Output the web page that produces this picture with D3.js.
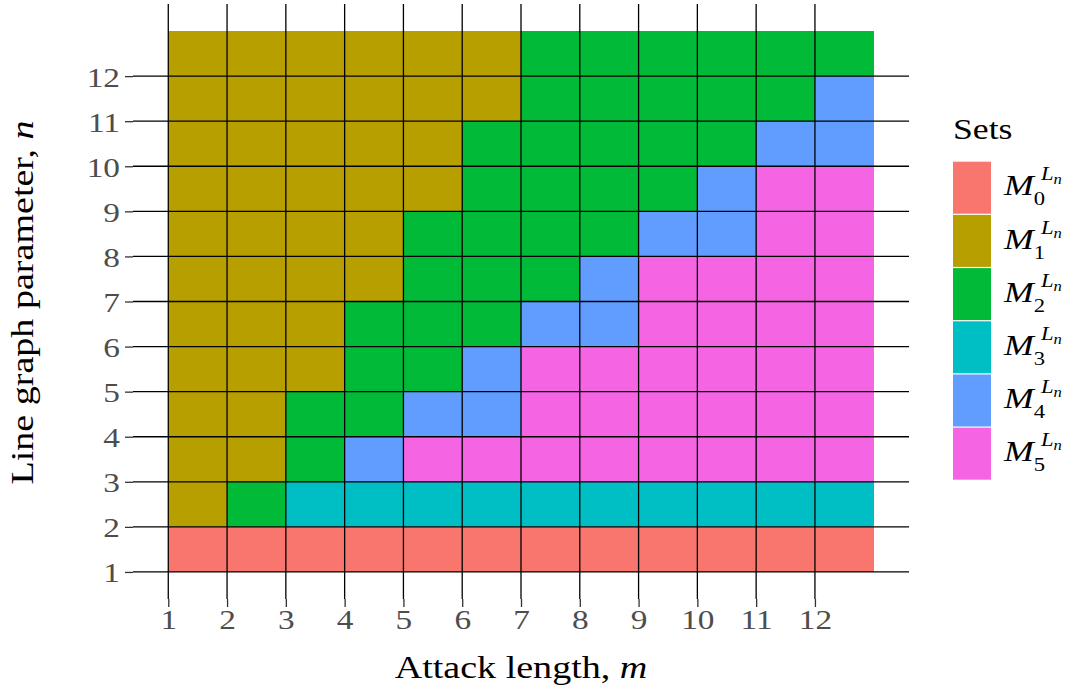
<!DOCTYPE html>
<html>
<head>
<meta charset="utf-8">
<script src="https://cdn.jsdelivr.net/npm/d3@7"></script>
<style>
  html, body { margin: 0; padding: 0; background: #fff; }
  svg { display: block; }
  text { font-family: "Liberation Serif", "Times New Roman", serif; }
</style>
</head>
<body>
<svg id="chart" width="1069" height="698"></svg>
<script>
// Attack length m (columns) and line graph parameter n (rows)
const attackLengths = [1, 2, 3, 4, 5, 6, 7, 8, 9, 10, 11, 12];
const lineParams = [1, 2, 3, 4, 5, 6, 7, 8, 9, 10, 11, 12];
const xTickLabels = ["1", "2", "3", "4", "5", "6", "7", "8", "9", "10", "11", "12"];
const yTickLabels = ["1", "2", "3", "4", "5", "6", "7", "8", "9", "10", "11", "12"];

// Set index (M_k) for each m, one array per n
const setsN1  = [0, 0, 0, 0, 0, 0, 0, 0, 0, 0, 0, 0];
const setsN2  = [1, 2, 3, 3, 3, 3, 3, 3, 3, 3, 3, 3];
const setsN3  = [1, 1, 2, 4, 5, 5, 5, 5, 5, 5, 5, 5];
const setsN4  = [1, 1, 2, 2, 4, 4, 5, 5, 5, 5, 5, 5];
const setsN5  = [1, 1, 1, 2, 2, 4, 5, 5, 5, 5, 5, 5];
const setsN6  = [1, 1, 1, 2, 2, 2, 4, 4, 5, 5, 5, 5];
const setsN7  = [1, 1, 1, 1, 2, 2, 2, 4, 5, 5, 5, 5];
const setsN8  = [1, 1, 1, 1, 2, 2, 2, 2, 4, 4, 5, 5];
const setsN9  = [1, 1, 1, 1, 1, 2, 2, 2, 2, 4, 5, 5];
const setsN10 = [1, 1, 1, 1, 1, 2, 2, 2, 2, 2, 4, 4];
const setsN11 = [1, 1, 1, 1, 1, 1, 2, 2, 2, 2, 2, 4];
const setsN12 = [1, 1, 1, 1, 1, 1, 2, 2, 2, 2, 2, 2];
const setRows = [setsN1, setsN2, setsN3, setsN4, setsN5, setsN6,
                 setsN7, setsN8, setsN9, setsN10, setsN11, setsN12];

const setIds = ["0", "1", "2", "3", "4", "5"];
const setColors = ["#F8766D", "#B79F00", "#00BA38", "#00BFC4", "#619CFF", "#F564E3"];

// Tidy cell list built from the arrays above
const cells = [];
lineParams.forEach((n, i) => {
  attackLengths.forEach((m, j) => cells.push({ m, n, set: setRows[i][j] }));
});

const svg = d3.select("#chart");
const STRETCH = 1.19;   // widen the serif glyphs a little

const panel = { left: 133, right: 909, top: 4, bottom: 599 };
const x = d3.scaleLinear().domain([0.4, 13.6]).range([panel.left, panel.right]);
const y = d3.scaleLinear().domain([0.4, 13.6]).range([panel.bottom, panel.top]);
const color = d3.scaleOrdinal().domain(setIds).range(setColors);

// Tiles
svg.append("g").selectAll("rect").data(cells).join("rect")
  .attr("x", d => x(d.m))
  .attr("y", d => y(d.n + 1))
  .attr("width", d => x(d.m + 1) - x(d.m))
  .attr("height", d => y(d.n) - y(d.n + 1))
  .attr("fill", d => color(String(d.set)))
  .attr("shape-rendering", "crispEdges");

// Grid lines drawn over the tiles
const grid = svg.append("g").attr("stroke", "#000").attr("stroke-width", 1.3);
grid.selectAll("line.v").data(attackLengths).join("line").attr("class", "v")
  .attr("x1", d => x(d)).attr("x2", d => x(d))
  .attr("y1", panel.top).attr("y2", panel.bottom);
grid.selectAll("line.h").data(lineParams).join("line").attr("class", "h")
  .attr("y1", d => y(d)).attr("y2", d => y(d))
  .attr("x1", panel.left).attr("x2", panel.right);

// Stretched text helper
function stretchedText(parent, tx, ty, rotate) {
  return parent.append("text")
    .attr("transform", `translate(${tx},${ty})${rotate ? ` rotate(${rotate})` : ""} scale(${STRETCH},1)`);
}

// Axes
const xAxis = d3.axisBottom(x).tickValues(attackLengths)
  .tickFormat((d, i) => xTickLabels[i]).tickSize(8).tickPadding(0);
const yAxis = d3.axisLeft(y).tickValues(lineParams)
  .tickFormat((d, i) => yTickLabels[i]).tickSize(8).tickPadding(0);

const gx = svg.append("g").attr("transform", `translate(0,${panel.bottom})`).call(xAxis);
const gy = svg.append("g").attr("transform", `translate(${panel.left},0)`).call(yAxis);
[gx, gy].forEach(g => {
  g.select(".domain").remove();
  g.selectAll(".tick line").attr("stroke", "#333333").attr("stroke-width", 1.3);
  g.selectAll(".tick text").attr("fill", "#4D4D4D")
    .style("font-family", "'Liberation Serif', serif").attr("font-size", 28);
});
gx.selectAll(".tick text").attr("y", null).attr("dy", null)
  .attr("transform", `translate(0,30) scale(${STRETCH},1)`)
  .attr("text-anchor", "middle");
gy.selectAll(".tick text").attr("x", null).attr("dy", null)
  .attr("transform", `translate(-13,10) scale(${STRETCH},1)`)
  .attr("text-anchor", "end");

// Axis titles
const xt = stretchedText(svg, (panel.left + panel.right) / 2, 678)
  .attr("text-anchor", "middle").attr("font-size", 32).attr("fill", "#000");
xt.append("tspan").text("Attack length, ");
xt.append("tspan").attr("font-style", "italic").text("m");

const yt = stretchedText(svg, 33, (panel.top + panel.bottom) / 2 + 1, -90)
  .attr("text-anchor", "middle").attr("font-size", 32).attr("fill", "#000");
yt.append("tspan").text("Line graph parameter, ");
yt.append("tspan").attr("font-style", "italic").text("n");

// Legend
const legend = { x: 953, top: 161.7, keyW: 38, keyH: 53.2 };
stretchedText(svg, legend.x, 139).attr("font-size", 30).attr("fill", "#000").text("Sets");

const keys = svg.append("g").selectAll("g").data(setIds).join("g")
  .attr("transform", (d, i) => `translate(${legend.x},${legend.top + i * legend.keyH})`);
keys.append("rect")
  .attr("width", legend.keyW).attr("height", legend.keyH - 1.2)
  .attr("fill", d => color(d));

// Label M_k^{L_n}: main symbol, subscript index, superscript L with its own subscript n
keys.each(function(d) {
  const g = d3.select(this).append("g")
    .attr("transform", `translate(51,${legend.keyH / 2 + 7}) scale(${STRETCH},1)`)
    .attr("fill", "#000");
  g.append("text").attr("font-size", 30).attr("font-style", "italic").text("M");
  g.append("text").attr("x", 25).attr("y", 10).attr("font-size", 19).text(d);
  g.append("text").attr("x", 31).attr("y", -15).attr("font-size", 19)
    .attr("font-style", "italic").text("L");
  g.append("text").attr("x", 41.5).attr("y", -11).attr("font-size", 14)
    .attr("font-style", "italic").text("n");
});
</script>
</body>
</html>
